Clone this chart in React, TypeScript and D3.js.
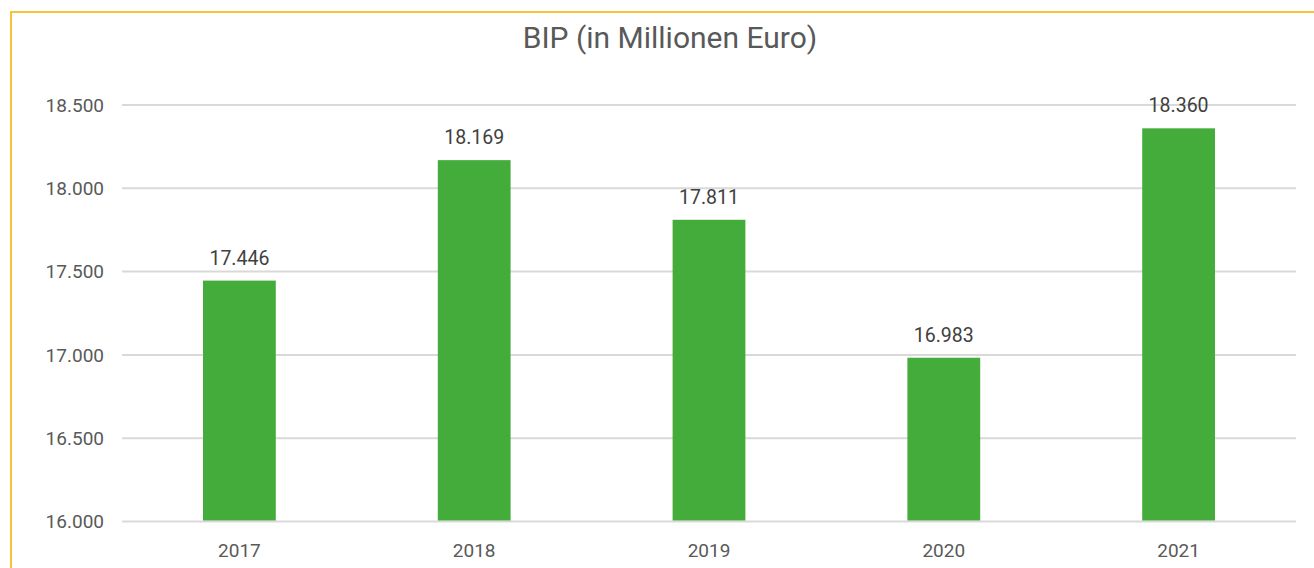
import { useMemo } from 'react';
import * as d3 from 'd3';

// BIP data (Millionen Euro)
const years = ['2017', '2018', '2019', '2020', '2021'];
const values = [17446, 18169, 17811, 16983, 18360];
const yTicks = [16000, 16500, 17000, 17500, 18000, 18500];
const title = 'BIP (in Millionen Euro)';

const fmt = (v: number) => d3.format(',')(v).replace(/,/g, '.');

export default function App() {
  const width = 1314;
  const height = 568;
  const margin = { top: 105, right: 18, bottom: 46, left: 122 };
  const font = 'Roboto, "Open Sans", sans-serif';

  const x = useMemo(
    () => d3.scaleBand().domain(years).range([margin.left, width - margin.right]).paddingInner(0.69).paddingOuter(0.345),
    []
  );
  const y = useMemo(
    () => d3.scaleLinear().domain([16000, 18500]).range([height - margin.bottom - 0.5, margin.top]),
    []
  );

  return (
    <svg width={width} height={height} style={{ position: 'absolute', left: 0, top: 0, background: '#fff' }}>
      {/* frame */}
      <path d={`M11,${height} L11,12 L${width},12`} fill="none" stroke="#F8C23C" strokeWidth={2} />

      <text x={670} y={48} textAnchor="middle" fontFamily={font} fontSize={30} fill="#595959">
        {title}
      </text>

      {/* gridlines + y ticks */}
      {yTicks.map(t => (
        <g key={t}>
          <line x1={margin.left} x2={width - margin.right} y1={y(t)} y2={y(t)} stroke="#d9d9d9" strokeWidth={2} />
          <text x={104} y={y(t)} dy="0.35em" textAnchor="end" fontFamily={font} fontSize={19} fill="#595959">
            {fmt(t)}
          </text>
        </g>
      ))}

      {/* bars */}
      {years.map((yr, i) => (
        <g key={yr}>
          <rect x={x(yr)} y={y(values[i])} width={x.bandwidth()} height={y(16000) - y(values[i]) - 1} fill="#44AC3B" />
          <text x={(x(yr) as number) + x.bandwidth() / 2} y={y(values[i]) - 16} textAnchor="middle" fontFamily={font} fontSize={19.5} fill="#404040">
            {fmt(values[i])}
          </text>
          <text x={(x(yr) as number) + x.bandwidth() / 2} y={557} textAnchor="middle" fontFamily={font} fontSize={19} fill="#595959">
            {yr}
          </text>
        </g>
      ))}
    </svg>
  );
}
